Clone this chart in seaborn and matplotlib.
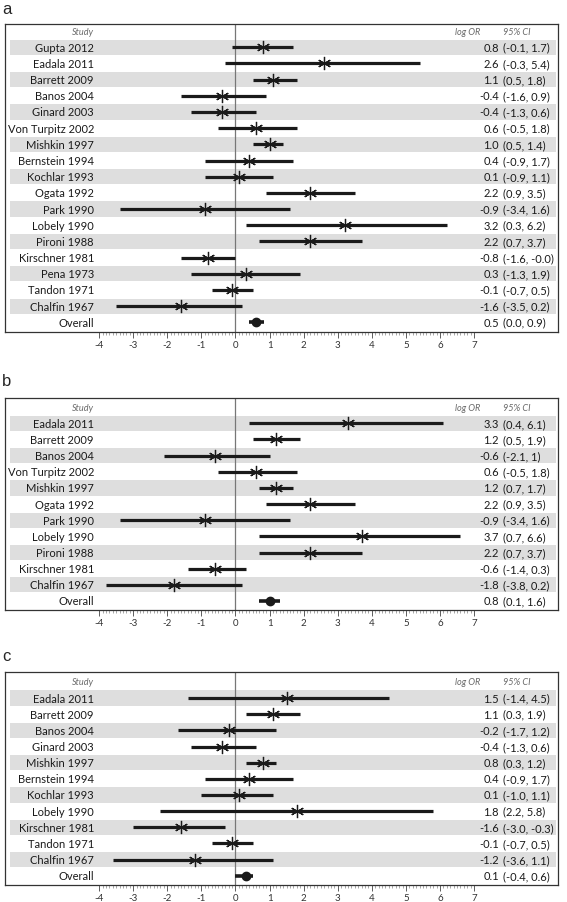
# Forest plots of log odds ratios, three panels
import numpy as np
import matplotlib
matplotlib.use("Agg")
import matplotlib.pyplot as plt
import seaborn as sns

# ---- data ----
studies_a = ["Gupta 2012", "Eadala 2011", "Barrett 2009", "Banos 2004", "Ginard 2003",
             "Von Turpitz 2002", "Mishkin 1997", "Bernstein 1994", "Kochlar 1993",
             "Ogata 1992", "Park 1990", "Lobely 1990", "Pironi 1988", "Kirschner 1981",
             "Pena 1973", "Tandon 1971", "Chalfin 1967"]
est_a = [0.8, 2.6, 1.1, -0.4, -0.4, 0.6, 1.0, 0.4, 0.1, 2.2, -0.9, 3.2, 2.2, -0.8, 0.3, -0.1, -1.6]
lo_a = [-0.1, -0.3, 0.5, -1.6, -1.3, -0.5, 0.5, -0.9, -0.9, 0.9, -3.4, 0.3, 0.7, -1.6, -1.3, -0.7, -3.5]
hi_a = [1.7, 5.4, 1.8, 0.9, 0.6, 1.8, 1.4, 1.7, 1.1, 3.5, 1.6, 6.2, 3.7, 0.0, 1.9, 0.5, 0.2]
or_text_a = ["0.8", "2.6", "1.1", "-0.4", "-0.4", "0.6", "1.0", "0.4", "0.1", "2.2", "-0.9",
             "3.2", "2.2", "-0.8", "0.3", "-0.1", "-1.6"]
ci_text_a = ["(-0.1, 1.7)", "(-0.3, 5.4)", "(0.5, 1.8)", "(-1.6, 0.9)", "(-1.3, 0.6)",
             "(-0.5, 1.8)", "(0.5, 1.4)", "(-0.9, 1.7)", "(-0.9, 1.1)", "(0.9, 3.5)",
             "(-3.4, 1.6)", "(0.3, 6.2)", "(0.7, 3.7)", "(-1.6, -0.0)", "(-1.3, 1.9)",
             "(-0.7, 0.5)", "(-3.5, 0.2)"]
overall_a = [0.6, 0.4, 0.85]          # drawn estimate, low, high
overall_text_a = ["0.5", "(0.0, 0.9)"]

studies_b = ["Eadala 2011", "Barrett 2009", "Banos 2004", "Von Turpitz 2002", "Mishkin 1997",
             "Ogata 1992", "Park 1990", "Lobely 1990", "Pironi 1988", "Kirschner 1981",
             "Chalfin 1967"]
est_b = [3.3, 1.2, -0.6, 0.6, 1.2, 2.2, -0.9, 3.7, 2.2, -0.6, -1.8]
lo_b = [0.4, 0.5, -2.1, -0.5, 0.7, 0.9, -3.4, 0.7, 0.7, -1.4, -3.8]
hi_b = [6.1, 1.9, 1.0, 1.8, 1.7, 3.5, 1.6, 6.6, 3.7, 0.3, 0.2]
or_text_b = ["3.3", "1.2", "-0.6", "0.6", "1.2", "2.2", "-0.9", "3.7", "2.2", "-0.6", "-1.8"]
ci_text_b = ["(0.4, 6.1)", "(0.5, 1.9)", "(-2.1, 1)", "(-0.5, 1.8)", "(0.7, 1.7)",
             "(0.9, 3.5)", "(-3.4, 1.6)", "(0.7, 6.6)", "(0.7, 3.7)", "(-1.4, 0.3)",
             "(-3.8, 0.2)"]
overall_b = [1.0, 0.7, 1.3]
overall_text_b = ["0.8", "(0.1, 1.6)"]

studies_c = ["Eadala 2011", "Barrett 2009", "Banos 2004", "Ginard 2003", "Mishkin 1997",
             "Bernstein 1994", "Kochlar 1993", "Lobely 1990", "Kirschner 1981",
             "Tandon 1971", "Chalfin 1967"]
est_c = [1.5, 1.1, -0.2, -0.4, 0.8, 0.4, 0.1, 1.8, -1.6, -0.1, -1.2]
lo_c = [-1.4, 0.3, -1.7, -1.3, 0.3, -0.9, -1.0, -2.2, -3.0, -0.7, -3.6]
hi_c = [4.5, 1.9, 1.2, 0.6, 1.2, 1.7, 1.1, 5.8, -0.3, 0.5, 1.1]
or_text_c = ["1.5", "1.1", "-0.2", "-0.4", "0.8", "0.4", "0.1", "1.8", "-1.6", "-0.1", "-1.2"]
ci_text_c = ["(-1.4, 4.5)", "(0.3, 1.9)", "(-1.7, 1.2)", "(-1.3, 0.6)", "(0.3, 1.2)",
             "(-0.9, 1.7)", "(-1.0, 1.1)", "(2.2, 5.8)", "(-3.0, -0.3)", "(-0.7, 0.5)",
             "(-3.6, 1.1)"]
overall_c = [0.3, 0.0, 0.5]
overall_text_c = ["0.1", "(-0.4, 0.6)"]

# ---- style ----
sns.set_style("white")
plt.rcParams["font.family"] = ["Lato", "DejaVu Sans"]

fig = plt.figure(figsize=(5.67, 9.03), dpi=100)

X_LEFT, X_RIGHT = -6.76, 9.46
NAME_X, OR_X, CI_X = -4.15, 7.73, 7.85
OR_HDR_X = 7.17
BAND = "#dedede"
INK = "#1a1a1a"
TXT = 8.0
HDR = 6.6
AX_L, AX_R = 5 / 567, 558 / 567


def forest(top_px, bottom_px, top_pad, bottom_pad, studies, est, lo, hi, or_text, ci_text,
           overall, overall_text, letter, letter_px):
    ax = fig.add_axes([AX_L, 1 - bottom_px / 903, AX_R - AX_L, (bottom_px - top_px) / 903])
    n = len(studies)
    ys = np.arange(n)
    y_over = n

    # alternating grey bands
    for i in range(0, n, 2):
        ax.axhspan(i - 0.47, i + 0.47, xmin=0.009, xmax=0.996, color=BAND, lw=0, zorder=0)

    ax.axvline(0, color="#777777", lw=0.9, zorder=1)

    # study CIs and point estimates
    ax.hlines(ys, lo, hi, color=INK, lw=2.3, zorder=2)
    ax.plot(est, ys, linestyle="none", marker=(6, 2, 0), markersize=9.5,
            markeredgewidth=0.9, color=INK, zorder=3)

    # overall
    ax.hlines(y_over, overall[1], overall[2], color=INK, lw=2.6, zorder=2)
    ax.plot([overall[0]], [y_over], linestyle="none", marker="o", markersize=6,
            color=INK, zorder=3)

    # text columns
    ax.text(NAME_X, -1, "Study", ha="right", va="center", fontsize=HDR,
            style="italic", color="#6a6a6a")
    ax.text(OR_HDR_X, -1, "log OR", ha="right", va="center", fontsize=HDR,
            style="italic", color="#6a6a6a")
    ax.text(CI_X, -1, "95% CI", ha="left", va="center", fontsize=HDR,
            style="italic", color="#6a6a6a")
    for y, name, o, c in zip(ys, studies, or_text, ci_text):
        ax.text(NAME_X, y, name, ha="right", va="center", fontsize=TXT, color=INK)
        ax.text(OR_X, y, o, ha="right", va="center", fontsize=TXT, color=INK)
        ax.text(CI_X, y, c, ha="left", va="center", fontsize=TXT, color=INK)
    ax.text(NAME_X, y_over, "Overall", ha="right", va="center", fontsize=TXT, color=INK)
    ax.text(OR_X, y_over, overall_text[0], ha="right", va="center", fontsize=TXT, color=INK)
    ax.text(CI_X, y_over, overall_text[1], ha="left", va="center", fontsize=TXT, color=INK)

    ax.set_xlim(X_LEFT, X_RIGHT)
    ax.set_ylim(n + bottom_pad, -1 - top_pad)
    ax.set_yticks([])
    ax.set_xticks(range(-4, 8))
    ax.set_xticklabels([str(t) for t in range(-4, 8)])
    ax.set_xticks(np.arange(-4, 7.001, 0.1), minor=True)
    ax.tick_params(axis="x", which="major", direction="out", length=4, width=0.6,
                   color="#444444", labelsize=7, labelcolor="#333333", pad=2, bottom=True)
    ax.tick_params(axis="x", which="minor", direction="out", length=2, width=0.4,
                   color="#666666", bottom=True)
    for s in ax.spines.values():
        s.set_color("#333333")
        s.set_linewidth(0.9)
    ax.set_xlabel("")
    ax.set_ylabel("")

    fig.text(0.004, 1 - letter_px / 903, letter, fontsize=12, ha="left", va="center",
             family=["Liberation Sans", "DejaVu Sans"])
    return ax


forest(25, 333, 0.44, 0.6,
       studies_a, est_a, lo_a, hi_a, or_text_a, ci_text_a, overall_a, overall_text_a,
       "a", 10)
forest(399, 611, 0.57, 0.56,
       studies_b, est_b, lo_b, hi_b, or_text_b, ci_text_b, overall_b, overall_text_b,
       "b", 382)
forest(673, 886, 0.61, 0.57,
       studies_c, est_c, lo_c, hi_c, or_text_c, ci_text_c, overall_c, overall_text_c,
       "c", 657)

fig.savefig("out.png", dpi=100)
